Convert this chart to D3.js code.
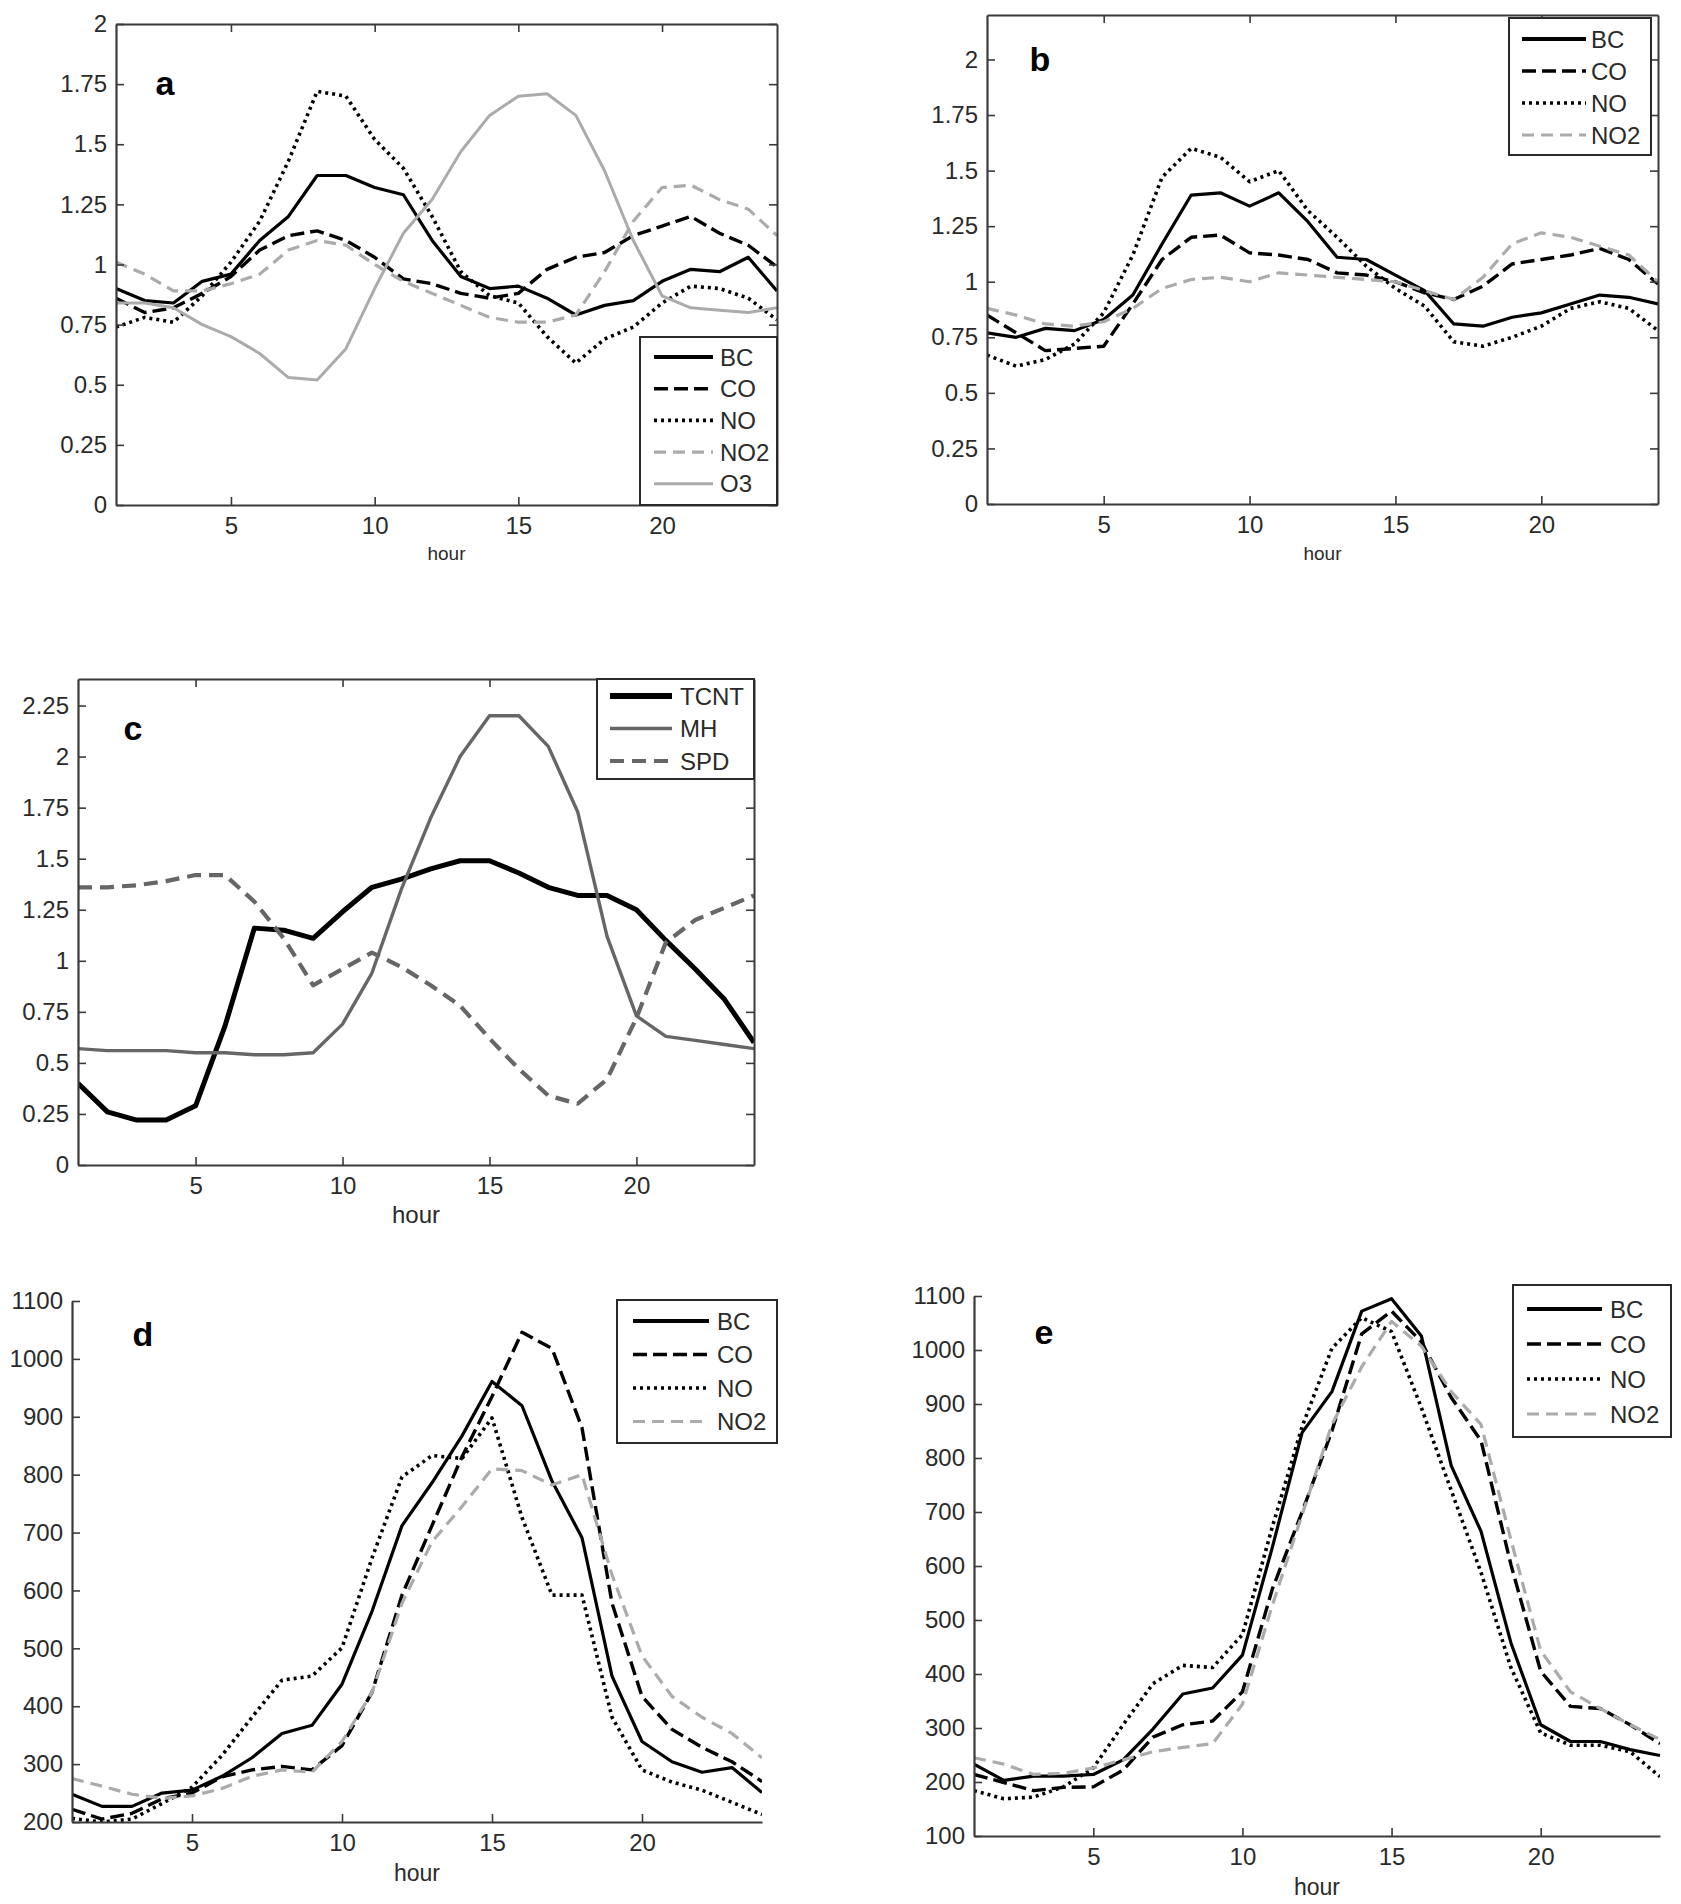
<!DOCTYPE html>
<html>
<head>
<meta charset="utf-8">
<script src="https://cdn.jsdelivr.net/npm/d3@7/dist/d3.min.js"></script>
<style>
  html, body { margin: 0; padding: 0; background: #fff; }
  svg { display: block; }
  text { font-family: "Liberation Sans", Arial, Helvetica, sans-serif; }
</style>
</head>
<body>
<svg id="chart" width="1681" height="1904"></svg>
<script>
// ---------------- data ----------------
const hours = [1,2,3,4,5,6,7,8,9,10,11,12,13,14,15,16,17,18,19,20,21,22,23,24];
const xTickValues = [5,10,15,20];
const xLabel = "hour";

// panel a
const aBC  = [0.90,0.85,0.84,0.93,0.96,1.10,1.20,1.37,1.37,1.32,1.29,1.10,0.95,0.90,0.91,0.86,0.79,0.83,0.85,0.93,0.98,0.97,1.03,0.89];
const aCO  = [0.86,0.80,0.82,0.88,0.95,1.06,1.12,1.14,1.10,1.03,0.94,0.92,0.88,0.86,0.88,0.98,1.03,1.05,1.12,1.16,1.20,1.13,1.08,0.99];
const aNO  = [0.74,0.78,0.76,0.87,1.01,1.18,1.43,1.72,1.70,1.52,1.40,1.20,0.97,0.87,0.84,0.70,0.59,0.69,0.74,0.84,0.91,0.90,0.86,0.77];
const aNO2 = [1.01,0.96,0.89,0.89,0.92,0.96,1.06,1.10,1.08,1.00,0.93,0.88,0.83,0.78,0.76,0.76,0.79,0.97,1.18,1.32,1.33,1.27,1.23,1.12];
const aO3  = [0.84,0.84,0.82,0.75,0.70,0.63,0.53,0.52,0.65,0.90,1.13,1.27,1.47,1.62,1.70,1.71,1.62,1.39,1.10,0.87,0.82,0.81,0.80,0.82];
const aYTicks = [0,0.25,0.5,0.75,1,1.25,1.5,1.75,2];

// panel b
const bBC  = [0.77,0.75,0.79,0.78,0.83,0.94,1.17,1.39,1.40,1.34,1.40,1.27,1.11,1.10,1.03,0.96,0.81,0.80,0.84,0.86,0.90,0.94,0.93,0.90];
const bCO  = [0.85,0.77,0.69,0.70,0.71,0.90,1.10,1.20,1.21,1.13,1.12,1.10,1.04,1.03,1.00,0.95,0.92,0.98,1.08,1.10,1.12,1.15,1.10,0.99];
const bNO  = [0.67,0.62,0.65,0.72,0.86,1.12,1.47,1.60,1.56,1.45,1.50,1.32,1.20,1.07,0.97,0.89,0.73,0.71,0.75,0.80,0.88,0.91,0.88,0.78];
const bNO2 = [0.88,0.85,0.81,0.80,0.82,0.88,0.97,1.01,1.02,1.00,1.04,1.03,1.02,1.01,1.00,0.96,0.92,1.02,1.17,1.22,1.20,1.16,1.12,1.00];
const bYTicks = [0,0.25,0.5,0.75,1,1.25,1.5,1.75,2];

// panel c
const cTCNT = [0.40,0.26,0.22,0.22,0.29,0.68,1.16,1.15,1.11,1.24,1.36,1.40,1.45,1.49,1.49,1.43,1.36,1.32,1.32,1.25,1.10,0.96,0.81,0.60];
const cMH   = [0.57,0.56,0.56,0.56,0.55,0.55,0.54,0.54,0.55,0.69,0.94,1.35,1.70,2.00,2.20,2.20,2.05,1.73,1.12,0.73,0.63,0.61,0.59,0.57];
const cSPD  = [1.36,1.36,1.37,1.39,1.42,1.42,1.29,1.11,0.88,0.96,1.04,0.97,0.88,0.78,0.62,0.47,0.34,0.30,0.42,0.72,1.09,1.20,1.26,1.32];
const cYTicks = [0,0.25,0.5,0.75,1,1.25,1.5,1.75,2,2.25];

// panel d
const dBC  = [248,227,227,250,255,279,311,353,367,438,564,712,786,867,961,919,789,691,452,339,304,286,294,251];
const dCO  = [222,205,215,240,250,278,290,296,290,332,424,592,712,831,935,1046,1018,881,578,417,360,329,304,270];
const dNO  = [206,200,205,232,260,315,381,445,452,501,656,796,833,828,898,726,592,592,381,290,269,255,234,213];
const dNO2 = [275,262,248,241,245,258,279,290,286,339,424,578,684,745,810,807,782,800,627,487,417,381,353,311];
const dYTicks = [200,300,400,500,600,700,800,900,1000,1100];

// panel e
const eBC  = [233,203,211,211,214,241,298,363,374,435,634,847,923,1072,1095,1026,786,664,458,306,275,275,260,249];
const eCO  = [214,199,184,190,191,222,283,306,313,367,557,700,850,1030,1072,1015,912,832,603,405,340,336,306,271];
const eNO  = [184,169,172,191,226,306,382,416,412,473,672,858,1003,1060,1034,893,740,588,412,291,268,268,256,210];
const eNO2 = [245,233,214,216,226,241,256,264,271,344,527,695,862,969,1053,1007,923,862,649,443,367,336,306,279];
const eYTicks = [100,200,300,400,500,600,700,800,900,1000,1100];

// ---------------- styles ----------------
const styles = {
  BC:   {stroke: "#000", width: 3.2, dash: null},
  CO:   {stroke: "#000", width: 3.4, dash: "14,6"},
  NO:   {stroke: "#000", width: 3.6, dash: "3,4"},
  NO2:  {stroke: "#ababab", width: 3.2, dash: "12,7"},
  O3:   {stroke: "#ababab", width: 3.0, dash: null},
  TCNT: {stroke: "#000", width: 5.0, dash: null},
  MH:   {stroke: "#666", width: 3.4, dash: null},
  SPD:  {stroke: "#666", width: 4.2, dash: "14,8"}
};

// ---------------- panels ----------------
const panels = [
  {id: "a", x0: 116, x1: 777, yTop: 24, yBot: 505, domain: [0, 2], yTicks: aYTicks, box: true,
   series: [["BC", aBC], ["CO", aCO], ["NO", aNO], ["NO2", aNO2], ["O3", aO3]],
   legend: {x: 640, y: 337, w: 137, h: 168, rowY0: 20, rowDy: 31.7, lx0: 14, lx1: 73, tx: 80},
   letter: {x: 165, y: 83}, hourY: 553, fs: 24, hourFs: 19},
  {id: "b", x0: 987, x1: 1658, yTop: 15, yBot: 504, domain: [0, 2.2], yTicks: bYTicks, box: true,
   series: [["BC", bBC], ["CO", bCO], ["NO", bNO], ["NO2", bNO2]],
   legend: {x: 1509, y: 18, w: 142, h: 137, rowY0: 21, rowDy: 32, lx0: 13, lx1: 77, tx: 82},
   letter: {x: 1040, y: 59}, hourY: 553, fs: 24, hourFs: 19},
  {id: "c", x0: 78, x1: 754, yTop: 679, yBot: 1165, domain: [0, 2.38], yTicks: cYTicks, box: true,
   series: [["TCNT", cTCNT], ["MH", cMH], ["SPD", cSPD]],
   legend: {x: 597, y: 679, w: 157, h: 100, rowY0: 17, rowDy: 32.5, lx0: 13, lx1: 75, tx: 83},
   letter: {x: 133, y: 728}, hourY: 1214, fs: 24, hourFs: 24},
  {id: "d", x0: 72, x1: 762, yTop: 1301, yBot: 1822, domain: [200, 1100], yTicks: dYTicks, box: false,
   series: [["BC", dBC], ["CO", dCO], ["NO", dNO], ["NO2", dNO2]],
   legend: {x: 617, y: 1300, w: 160, h: 143, rowY0: 21, rowDy: 33.5, lx0: 16, lx1: 92, tx: 100},
   letter: {x: 143, y: 1334}, hourY: 1873, fs: 24, hourFs: 23},
  {id: "e", x0: 974, x1: 1660, yTop: 1296, yBot: 1836, domain: [100, 1100], yTicks: eYTicks, box: false,
   series: [["BC", eBC], ["CO", eCO], ["NO", eNO], ["NO2", eNO2]],
   legend: {x: 1513, y: 1285, w: 158, h: 152, rowY0: 24, rowDy: 35, lx0: 14, lx1: 89, tx: 97},
   letter: {x: 1044, y: 1332}, hourY: 1887, fs: 24, hourFs: 23}
];

const svg = d3.select("#chart");
const defs = svg.append("defs");
const AXIS_COLOR = "#3a3a3a";
const TEXT_COLOR = "#2a2a2a";

panels.forEach(p => {
  const g = svg.append("g").attr("class", "panel-" + p.id);
  const x = d3.scaleLinear().domain([1, 24]).range([p.x0, p.x1]);
  const y = d3.scaleLinear().domain(p.domain).range([p.yBot, p.yTop]);

  const clipId = "clip-" + p.id;
  defs.append("clipPath").attr("id", clipId)
    .append("rect")
    .attr("x", x.range()[0]).attr("y", y.range()[1])
    .attr("width", x.range()[1] - x.range()[0])
    .attr("height", y.range()[0] - y.range()[1]);

  // series lines
  const line = d3.line().x((d, i) => x(hours[i])).y(d => y(d));
  const lg = g.append("g").attr("clip-path", `url(#${clipId})`);
  p.series.forEach(([name, vals]) => {
    const s = styles[name];
    lg.append("path")
      .datum(vals)
      .attr("d", line)
      .attr("fill", "none")
      .attr("stroke", s.stroke)
      .attr("stroke-width", s.width)
      .attr("stroke-dasharray", s.dash)
      .attr("stroke-linejoin", "round");
  });

  // axes
  const fmt = d => String(d);
  const xAxis = d3.axisBottom(x).tickValues(xTickValues).tickSizeInner(-8).tickSizeOuter(0).tickPadding(12).tickFormat(fmt);
  const yAxis = d3.axisLeft(y).tickValues(p.yTicks).tickSizeInner(-8).tickSizeOuter(0).tickPadding(9).tickFormat(fmt);

  const gx = g.append("g").attr("transform", `translate(0,${p.yBot})`).call(xAxis);
  const gy = g.append("g").attr("transform", `translate(${p.x0},0)`).call(yAxis);

  if (p.box) {
    const gxt = g.append("g").attr("transform", `translate(0,${p.yTop})`)
      .call(d3.axisTop(x).tickValues(xTickValues).tickSizeInner(-8).tickSizeOuter(0).tickFormat(""));
    const gyr = g.append("g").attr("transform", `translate(${p.x1},0)`)
      .call(d3.axisRight(y).tickValues(p.yTicks).tickSizeInner(-8).tickSizeOuter(0).tickFormat(""));
    [gxt, gyr].forEach(a => {
      a.select(".domain").attr("stroke", AXIS_COLOR).attr("stroke-width", 2);
      a.selectAll(".tick line").attr("stroke", AXIS_COLOR).attr("stroke-width", 1.6);
    });
  }
  [gx, gy].forEach(a => {
    a.select(".domain").attr("stroke", AXIS_COLOR).attr("stroke-width", 2.2);
    a.selectAll(".tick line").attr("stroke", AXIS_COLOR).attr("stroke-width", 1.6);
    a.selectAll(".tick text")
      .attr("fill", TEXT_COLOR)
      .style("font-size", p.fs + "px");
  });
  gx.selectAll(".tick text").attr("dy", "0.72em");

  // x label
  g.append("text")
    .attr("x", (p.x0 + p.x1) / 2)
    .attr("y", p.hourY)
    .attr("text-anchor", "middle")
    .attr("dominant-baseline", "central")
    .attr("fill", TEXT_COLOR)
    .style("font-size", p.hourFs + "px")
    .text(xLabel);

  // panel letter
  g.append("text")
    .attr("x", p.letter.x)
    .attr("y", p.letter.y)
    .attr("text-anchor", "middle")
    .attr("dominant-baseline", "central")
    .attr("fill", "#000")
    .style("font-size", "34px")
    .style("font-weight", "bold")
    .text(p.id);

  // legend
  const L = p.legend;
  const leg = g.append("g").attr("transform", `translate(${L.x},${L.y})`);
  leg.append("rect")
    .attr("width", L.w).attr("height", L.h)
    .attr("fill", "#fff").attr("stroke", "#2a2a2a").attr("stroke-width", 2);
  p.series.forEach(([name], i) => {
    const s = styles[name];
    const ry = L.rowY0 + i * L.rowDy;
    leg.append("line")
      .attr("x1", L.lx0).attr("x2", L.lx1)
      .attr("y1", ry).attr("y2", ry)
      .attr("stroke", s.stroke)
      .attr("stroke-width", name === "BC" || name === "TCNT" ? s.width + 1 : s.width)
      .attr("stroke-dasharray", s.dash);
    leg.append("text")
      .attr("x", L.tx).attr("y", ry)
      .attr("dominant-baseline", "central")
      .attr("fill", TEXT_COLOR)
      .style("font-size", "24px")
      .text(name);
  });
});
</script>
</body>
</html>
